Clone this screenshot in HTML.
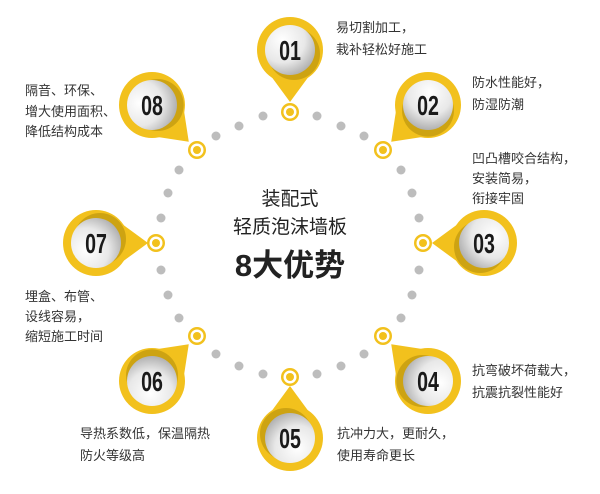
<!DOCTYPE html>
<html><head><meta charset="utf-8"><style>
body{margin:0;background:#fff;}
svg text{font-family:"Liberation Sans","Noto Sans CJK SC",sans-serif;}
</style></head><body>
<svg width="600" height="489" viewBox="0 0 600 489" xmlns="http://www.w3.org/2000/svg">
<defs>
<radialGradient id="g" cx="35%" cy="30%" r="75%">
<stop offset="0" stop-color="#ffffff"/><stop offset="0.6" stop-color="#e8e8e8"/><stop offset="1" stop-color="#b0b0b0"/>
</radialGradient>
<g id="pin">
<path d="M-22,22 L0,52 L22,22 Z" fill="#f2c11d"/>
<circle r="33" fill="#f2c11d"/>
<circle cx="4" cy="4" r="26" fill="#8a6d00" opacity="0.35"/>
<circle r="25" fill="url(#g)"/>
</g>
<g id="mk"><circle r="9" fill="#f2c11d"/><circle r="6.5" fill="#fff"/><circle r="4" fill="#f2c11d"/></g>
</defs>
<g id="dots" fill="#bdbdbd">
<circle cx="317" cy="116" r="4.5"/><circle cx="341" cy="126" r="4.5"/><circle cx="364" cy="136" r="4.5"/>
<circle cx="401" cy="170" r="4.5"/><circle cx="412" cy="193" r="4.5"/><circle cx="419" cy="218" r="4.5"/>
<circle cx="419" cy="270" r="4.5"/><circle cx="412" cy="295" r="4.5"/><circle cx="401" cy="318" r="4.5"/>
<circle cx="364" cy="354" r="4.5"/><circle cx="341" cy="366" r="4.5"/><circle cx="317" cy="374" r="4.5"/>
<circle cx="263" cy="374" r="4.5"/><circle cx="239" cy="366" r="4.5"/><circle cx="216" cy="354" r="4.5"/>
<circle cx="179" cy="318" r="4.5"/><circle cx="168" cy="295" r="4.5"/><circle cx="161" cy="270" r="4.5"/>
<circle cx="161" cy="218" r="4.5"/><circle cx="168" cy="193" r="4.5"/><circle cx="179" cy="170" r="4.5"/>
<circle cx="216" cy="136" r="4.5"/><circle cx="239" cy="126" r="4.5"/><circle cx="263" cy="116" r="4.5"/>
</g>
<use href="#mk" x="290" y="112"/><use href="#mk" x="383" y="150"/><use href="#mk" x="423" y="243"/><use href="#mk" x="383" y="336"/>
<use href="#mk" x="290" y="377"/><use href="#mk" x="197" y="336"/><use href="#mk" x="156" y="243"/><use href="#mk" x="197" y="150"/>

<use href="#pin" transform="translate(290,50)"/>
<use href="#pin" transform="translate(428,105) rotate(45)"/>
<use href="#pin" transform="translate(484,243) rotate(90)"/>
<use href="#pin" transform="translate(428,381) rotate(135)"/>
<use href="#pin" transform="translate(290,438) rotate(180)"/>
<use href="#pin" transform="translate(152,381) rotate(225)"/>
<use href="#pin" transform="translate(96,243) rotate(270)"/>
<use href="#pin" transform="translate(152,105) rotate(315)"/>

<g font-size="28" font-weight="bold" fill="#1a1a1a" text-anchor="middle">
<text transform="translate(290,60) scale(0.7,1)">01</text>
<text transform="translate(428,115) scale(0.7,1)">02</text>
<text transform="translate(484,253) scale(0.7,1)">03</text>
<text transform="translate(428,391) scale(0.7,1)">04</text>
<text transform="translate(290,448) scale(0.7,1)">05</text>
<text transform="translate(152,391) scale(0.7,1)">06</text>
<text transform="translate(96,253) scale(0.7,1)">07</text>
<text transform="translate(152,115) scale(0.7,1)">08</text>
</g>

<g font-size="13" fill="#333">
<text x="336" y="32">易切割加工，</text><text x="336" y="54">栽补轻松好施工</text>
<text x="472" y="87">防水性能好，</text><text x="472" y="109">防湿防潮</text>
<text x="472" y="163">凹凸槽咬合结构，</text><text x="472" y="183">安装简易，</text><text x="472" y="203">衔接牢固</text>
<text x="472" y="375">抗弯破坏荷载大，</text><text x="472" y="397">抗震抗裂性能好</text>
<text x="337" y="438">抗冲力大，更耐久，</text><text x="337" y="460">使用寿命更长</text>
<text x="80" y="438">导热系数低，保温隔热</text><text x="80" y="460">防火等级高</text>
<text x="25" y="301">埋盒、布管、</text><text x="25" y="321">设线容易，</text><text x="25" y="341">缩短施工时间</text>
<text x="25" y="95">隔音、环保、</text><text x="25" y="116">增大使用面积、</text><text x="25" y="136">降低结构成本</text>
</g>
<g fill="#222" text-anchor="middle">
<text x="290" y="205" font-size="19">装配式</text>
<text x="290" y="233" font-size="19">轻质泡沫墙板</text>
<text x="290" y="276" font-size="31" font-weight="bold">8大优势</text>
</g>
</svg>
</body></html>
